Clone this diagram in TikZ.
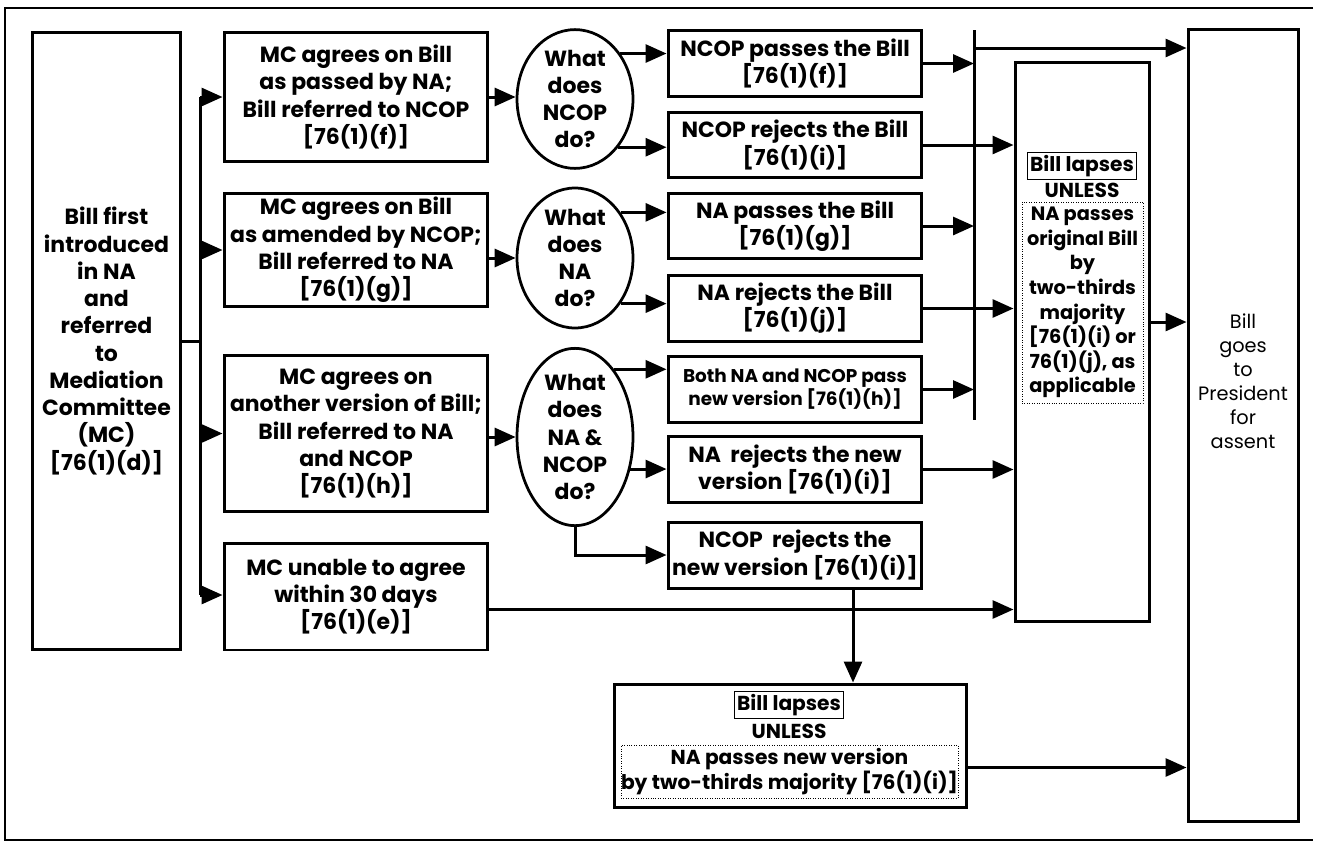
\documentclass[tikz,border=0pt]{standalone}
\usepackage{fontspec}
\setmainfont{Poppins}
\usetikzlibrary{arrows.meta,calc,shapes.geometric}

\begin{document}
\begin{tikzpicture}[x=0.02cm,y=-0.02cm,
		box/.style={draw,line width=0.6mm,align=center,inner sep=0pt,font=\bfseries\fontsize{12.5}{15.5}\selectfont},
		outcome/.style={box,minimum width=5.08cm,minimum height=1.32cm},
		ask/.style={draw,ellipse,line width=0.55mm,align=center,inner sep=0pt,minimum width=2.32cm,font=\bfseries\fontsize{12.5}{15.5}\selectfont},
		tag/.style={draw,line width=0.3pt,inner sep=1.5pt,font=\bfseries\fontsize{11.5}{13.5}\selectfont},
		terms/.style={draw,densely dotted,line width=0.4pt,align=center,inner sep=0pt,font=\bfseries\fontsize{11}{14}\selectfont},
		line/.style={line width=0.6mm},
		flow/.style={line width=0.6mm,-{Triangle[length=4.2mm,width=3.6mm]}}]
		%%%%% START %%%%%
		\useasboundingbox (0,0) rectangle (1318,842);
		\draw[line width=0.4mm] (1313,8) -- (5,8) -- (5,840) -- (1313,840);
		
		\node[box,minimum width=2.98cm,minimum height=12.36cm] (intro) at (106.5,341) {Bill first\\introduced\\in NA\\and\\referred\\to\\Mediation\\Committee\\(MC)\\{}[76(1)(d)]};
		
		\node[box,minimum width=5.28cm,minimum height=2.6cm] (mcNA) at (356,97) {MC agrees on Bill\\as passed by NA;\\Bill referred to NCOP\\{}[76(1)(f)]};
		\node[box,minimum width=5.28cm,minimum height=2.28cm] (mcNCOP) at (356,250) {MC agrees on Bill\\as amended by NCOP;\\Bill referred to NA\\{}[76(1)(g)]};
		\node[box,minimum width=5.28cm,minimum height=3.14cm] (mcNew) at (356,433.5) {MC agrees on\\another version of Bill;\\Bill referred to NA\\and NCOP\\{}[76(1)(h)]};
		\node[box,minimum width=5.28cm,minimum height=2.14cm] (mcFail) at (356,596.5) {MC unable to agree\\within 30 days\\{}[76(1)(e)]};
		
		\node[ask,minimum height=2.52cm] (askNCOP) at (575,99) {What\\does\\NCOP\\do?};
		\node[ask,minimum height=2.8cm] (askNA) at (575,258) {What\\does\\NA\\do?};
		\node[ask,minimum height=3.3cm] (askBoth) at (575,437) {What\\does\\NA \&\\NCOP\\do?};
		
		\node[outcome] (ncopPass) at (795,63.5) {NCOP passes the Bill\\{}[76(1)(f)]};
		\node[outcome] (ncopReject) at (795,145) {NCOP rejects the Bill\\{}[76(1)(i)]};
		\node[outcome] (naPass) at (795,226) {NA passes the Bill\\{}[76(1)(g)]};
		\node[outcome] (naReject) at (795,308.5) {NA rejects the Bill\\{}[76(1)(j)]};
		\node[outcome,font=\bfseries\fontsize{10.5}{13}\selectfont] (bothPass) at (795,389.5) {Both NA and NCOP pass\\new version [76(1)(h)]};
		\node[outcome] (naRejectNew) at (795,469.5) {NA~~rejects the new\\version [76(1)(i)]};
		\node[outcome] (ncopRejectNew) at (795,555) {NCOP~~rejects the\\new version [76(1)(i)]};
		
		\coordinate (barTop) at (974,30);
		\coordinate (barBot) at (974,420);
		\coordinate (barOut) at (974,48);
		\draw[line width=0.6mm] (barTop) -- (barBot);
		
		\node[box,minimum width=2.68cm,minimum height=11.2cm] (lapse) at (1082,342) {};
		\node[tag] (lapseTag) at (1082,166) {Bill lapses};
		\node[font=\bfseries\fontsize{11.5}{13.5}\selectfont] (lapseUnless) at (1082,190) {UNLESS};
		\node[terms,minimum width=2.42cm,minimum height=4.02cm] (lapseTerms) at (1082.5,302.5) {NA passes\\original Bill\\by\\two-thirds\\majority\\{}[76(1)(i) or\\76(1)(j), as\\applicable};
		
		\node[box,minimum width=2.2cm,minimum height=15.86cm] (president) at (1243,425.5) {};
		\node[align=center,font=\fontsize{11}{13.6}\selectfont] (presidentText) at (1243,381) {Bill\\goes\\to\\President\\for\\assent};
		
		\node[box,minimum width=7.06cm,minimum height=2.46cm] (newLapse) at (790.5,745.5) {};
		\node[tag] (newTag) at (789,705) {Bill lapses};
		\node[font=\bfseries\fontsize{11.5}{13.5}\selectfont] (newUnless) at (789,731) {UNLESS};
		\node[terms,minimum width=6.34cm,minimum height=1.06cm,font=\bfseries\fontsize{11.5}{14.7}\selectfont] (newTerms) at (789.5,771.5) {NA passes new version\\by two-thirds majority [76(1)(i)]};
		
		% from the first box to the four MC outcomes
		\coordinate (trunkTop) at (200,97);
		\coordinate (trunkBot) at (200,595);
		\draw[line] (intro.east) -- (intro.east -| trunkTop);
		\draw[line] (trunkTop) -- (trunkBot);
		\draw[flow] (trunkTop) -- (mcNA.west);
		\draw[flow] (mcNCOP.west -| trunkTop) -- (mcNCOP.west);
		\draw[flow] (mcNew.west -| trunkTop) -- (mcNew.west);
		\draw[flow] (trunkBot) -- (trunkBot -| mcFail.west);
		
		\draw[flow] (mcNA.east) -- (mcNA.east -| askNCOP.west);
		\draw[flow] (mcNCOP.east |- askNA.west) -- (askNA.west);
		\draw[flow] (mcNew.east |- askBoth.west) -- (askBoth.west);
		
		\draw[flow] (askNCOP.45) -- (askNCOP.45 -| ncopPass.west);
		\draw[flow] (askNCOP.-48) -- (askNCOP.-48 -| ncopReject.west);
		\draw[flow] (askNA.45) -- (askNA.45 -| naPass.west);
		\draw[flow] (askNA.-45) -- (askNA.-45 -| naReject.west);
		\draw[flow] (askBoth.60) -- (askBoth.60 -| bothPass.west);
		\draw[flow] (askBoth.-30) -- (askBoth.-30 -| naRejectNew.west);
		\draw[flow] (askBoth.south) -- (askBoth.south |- ncopRejectNew.west) -- (ncopRejectNew.west);
		
		% passed: onto the bar and to the President
		\draw[flow] (ncopPass.east) -- (ncopPass.east -| barTop);
		\draw[flow] (naPass.east) -- (naPass.east -| barTop);
		\draw[flow] (bothPass.east) -- (bothPass.east -| barTop);
		\draw[flow] (barOut) -- (barOut -| president.west);
		
		% rejected: the Bill lapses
		\draw[flow] (ncopReject.east) -- (ncopReject.east -| lapse.west);
		\draw[flow] (naReject.east) -- (naReject.east -| lapse.west);
		\draw[flow] (naRejectNew.east) -- (naRejectNew.east -| lapse.west);
		\coordinate (failOut) at ($(mcFail.east)+(0,13)$);
		\draw[flow] (failOut) -- (failOut -| lapse.west);
		\coordinate (lapseOut) at ($(lapse.east)+(0,-20)$);
		\draw[flow] (lapseOut) -- (lapseOut -| president.west);
		
		\coordinate (rejectDown) at ($(ncopRejectNew.south)+(58,0)$);
		\draw[flow] (rejectDown) -- (rejectDown |- newLapse.north);
		\coordinate (newOut) at ($(newLapse.east)+(0,22)$);
		\draw[flow] (newOut) -- (newOut -| president.west);
		
		%%%%% END %%%%%
	\end{tikzpicture}
\end{document}
